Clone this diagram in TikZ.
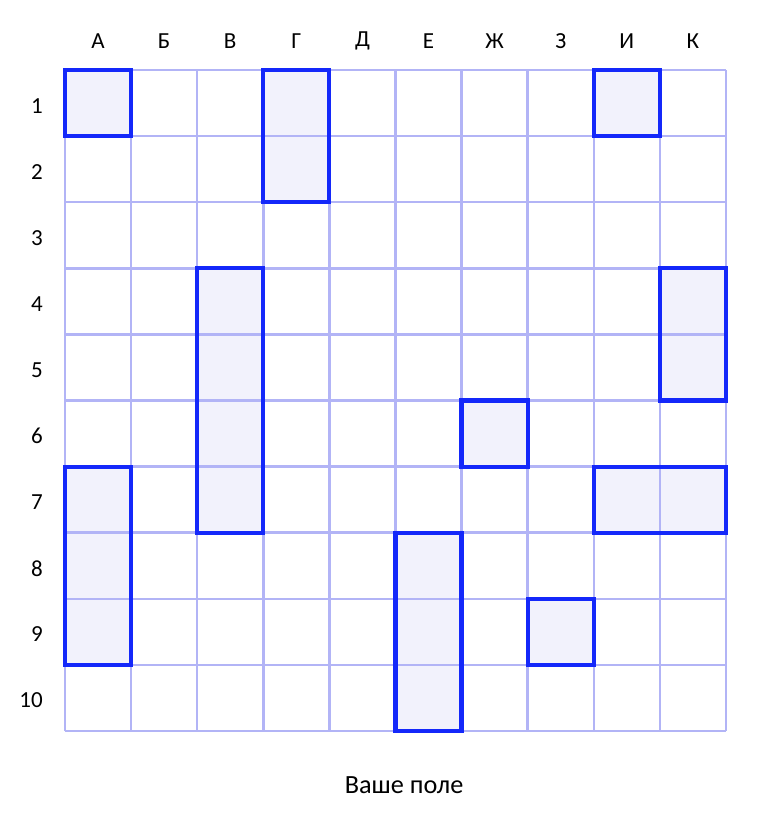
\documentclass[tikz,border=0pt]{standalone}
\usepackage{fontspec}
\setmainfont{Carlito}
\usetikzlibrary{positioning}
\definecolor{gridc}{RGB}{178,180,246}
\definecolor{shipc}{RGB}{20,40,250}
\definecolor{shipf}{RGB}{242,242,252}

\begin{document}
\begin{tikzpicture}[x=1cm,y=-1cm,
  cellgrid/.style={gridc,line width=1.05pt},
  shipfill/.style={fill=shipf},
  shipbox/.style={draw=shipc,line width=1.8pt},
  lbl/.style={font=\fontsize{9.9}{11}\selectfont,text=black,inner sep=0pt}]
  \useasboundingbox (-0.983,-1.059) rectangle (10.696,11.316);
  % ships: fill under the grid, border over it
  \foreach \xa/\ya/\xb/\yb in {0/0/1/1,3/0/4/2,8/0/9/1,2/3/3/7,9/3/10/5,
      6/5/7/6,0/6/1/9,8/6/10/7,5/7/6/10,7/8/8/9}
    \fill[shipfill] (\xa,\ya) rectangle (\xb,\yb);
  \draw[cellgrid] (0,0) grid (10,10);
  \foreach \xa/\ya/\xb/\yb in {0/0/1/1,3/0/4/2,8/0/9/1,2/3/3/7,9/3/10/5,
      6/5/7/6,0/6/1/9,8/6/10/7,5/7/6/10,7/8/8/9}
    \draw[shipbox] (\xa,\ya) rectangle (\xb,\yb);
  % column and row labels
  \foreach \c [count=\i from 0] in {А,Б,В,Г,Д,Е,Ж,З,И,К}
    \node[lbl] (col\i) at (\i+0.5,-0.44) {\c};
  \foreach \r in {1,...,10}
    \node[lbl,anchor=east] (row\r) at (-0.33,\r-0.46) {\r};
  \node[font=\fontsize{11.3}{13}\selectfont] (title) at (5.13,10.82) {Ваше поле};
\end{tikzpicture}
\end{document}
